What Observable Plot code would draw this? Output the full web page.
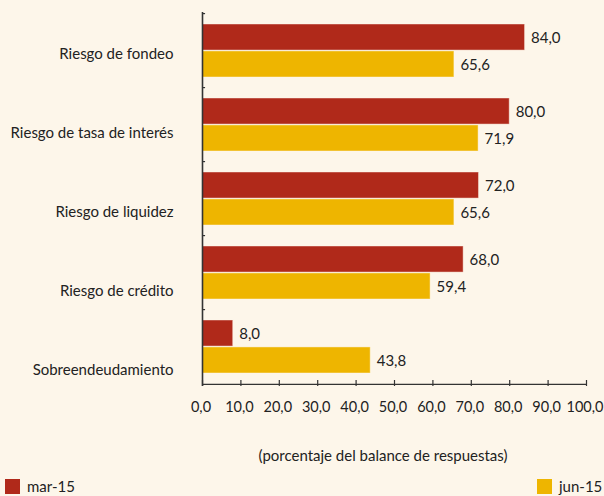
<!DOCTYPE html>
<html>
<head>
<meta charset="utf-8">
<script src="https://cdn.jsdelivr.net/npm/d3@7"></script>
<script src="https://cdn.jsdelivr.net/npm/@observablehq/plot@0.6"></script>
<style>
  html, body { margin: 0; padding: 0; background: #fdf6ea; }
  #wrap { position: relative; width: 604px; height: 496px; background: #fdf6ea; font-family: Lato, sans-serif; color: #222; overflow: hidden; }
  #wrap svg { position: absolute; left: 0; top: 0; }
  .txt { position: absolute; font-size: 15px; line-height: 16px; white-space: nowrap; color: #222; }
  .sw { position: absolute; width: 15px; height: 15px; }
</style>
</head>
<body>
<div id="wrap"></div>
<script>
const categories = ["Riesgo de fondeo", "Riesgo de tasa de interés", "Riesgo de liquidez", "Riesgo de crédito", "Sobreendeudamiento"];
const seriesNames = ["mar-15", "jun-15"];
const mar15 = [84.0, 80.0, 72.0, 68.0, 8.0];
const jun15 = [65.6, 71.9, 65.6, 59.4, 43.8];
const xTicks = [0, 10, 20, 30, 40, 50, 60, 70, 80, 90, 100];
const colors = ["#b0291a", "#eeb500"];
const axisTitle = "(porcentaje del balance de respuestas)";

const rowsMar = categories.map((c, i) => ({cat: c, v: mar15[i]}));
const rowsJun = categories.map((c, i) => ({cat: c, v: jun15[i]}));
const fmt = d => d.toFixed(1).replace(".", ",");

const W = 604, H = 496, FS = 15;
const step = (386 - 12) / categories.length;
const half = step * 0.72 / 2;

const main = Plot.plot({
  width: W, height: H,
  marginLeft: 202, marginRight: 18, marginTop: 12, marginBottom: 110,
  style: {background: "transparent", fontFamily: "Lato, sans-serif", fontSize: FS + "px", color: "#222"},
  x: {domain: [0, 100]},
  y: {type: "band", domain: categories, paddingInner: 0.28, paddingOuter: 0.14, axis: null},
  marks: [
    Plot.barX(rowsMar, {x: "v", y: "cat", fill: colors[0], insetBottom: half, stroke: "#fdf6ea", strokeOpacity: 0.45, strokeWidth: 1}),
    Plot.barX(rowsJun, {x: "v", y: "cat", fill: colors[1], insetTop: half, stroke: "#fdf6ea", strokeOpacity: 0.45, strokeWidth: 1}),
    Plot.text(rowsMar, {x: "v", y: "cat", text: d => fmt(d.v), dy: -half / 2 + 1, dx: 6, textAnchor: "start", fill: "#222", fontSize: FS}),
    Plot.text(rowsJun, {x: "v", y: "cat", text: d => fmt(d.v), dy: half / 2 + 1, dx: 6, textAnchor: "start", fill: "#222", fontSize: FS}),
    Plot.ruleY(categories, {y: d => d, x1: 0, x2: 0.8, dy: -step / 2, stroke: "#333", strokeWidth: 1.2}),
    Plot.ruleY([categories[categories.length - 1]], {y: d => d, x1: 0, x2: 100, dy: step / 2, stroke: "#333", strokeWidth: 1.4}),
    Plot.ruleX(xTicks, {x: d => d, insetTop: 374 - 6, stroke: "#333", strokeWidth: 1.2}),
    Plot.ruleX([0], {stroke: "#333", strokeWidth: 1.6}),
    Plot.axisX({ticks: xTicks, tickSize: 0, tickPadding: 15, tickFormat: fmt, label: null, fontSize: 14.5, dx: -1.5, fill: "#222"})
  ]
});

const labels = Plot.plot({
  width: W, height: H,
  marginLeft: 202, marginRight: 18, marginTop: 12, marginBottom: 86,
  style: {background: "transparent", fontFamily: "Lato, sans-serif", fontSize: FS + "px", color: "#222"},
  x: {domain: [0, 100], axis: null},
  y: {type: "band", domain: categories, padding: 0},
  marks: [
    Plot.axisY({tickSize: 0, tickPadding: 29, label: null, fontSize: FS, fill: "#222"})
  ]
});

const wrap = document.getElementById("wrap");
wrap.appendChild(main);
wrap.appendChild(labels);

function addText(t, left, top, extra) {
  const d = document.createElement("div");
  d.className = "txt";
  d.textContent = t;
  d.style.left = left + "px";
  d.style.top = top + "px";
  if (extra) Object.assign(d.style, extra);
  wrap.appendChild(d);
  return d;
}
addText(axisTitle, 383, 447, {transform: "translateX(-50%)"});

const legendPos = [{sx: 5, tx: 27}, {sx: 537, tx: 559}];
seriesNames.forEach((s, i) => {
  const sw = document.createElement("div");
  sw.className = "sw";
  sw.style.left = legendPos[i].sx + "px";
  sw.style.top = "479px";
  sw.style.background = colors[i];
  wrap.appendChild(sw);
  addText(s, legendPos[i].tx, 478);
});
</script>
</body>
</html>
